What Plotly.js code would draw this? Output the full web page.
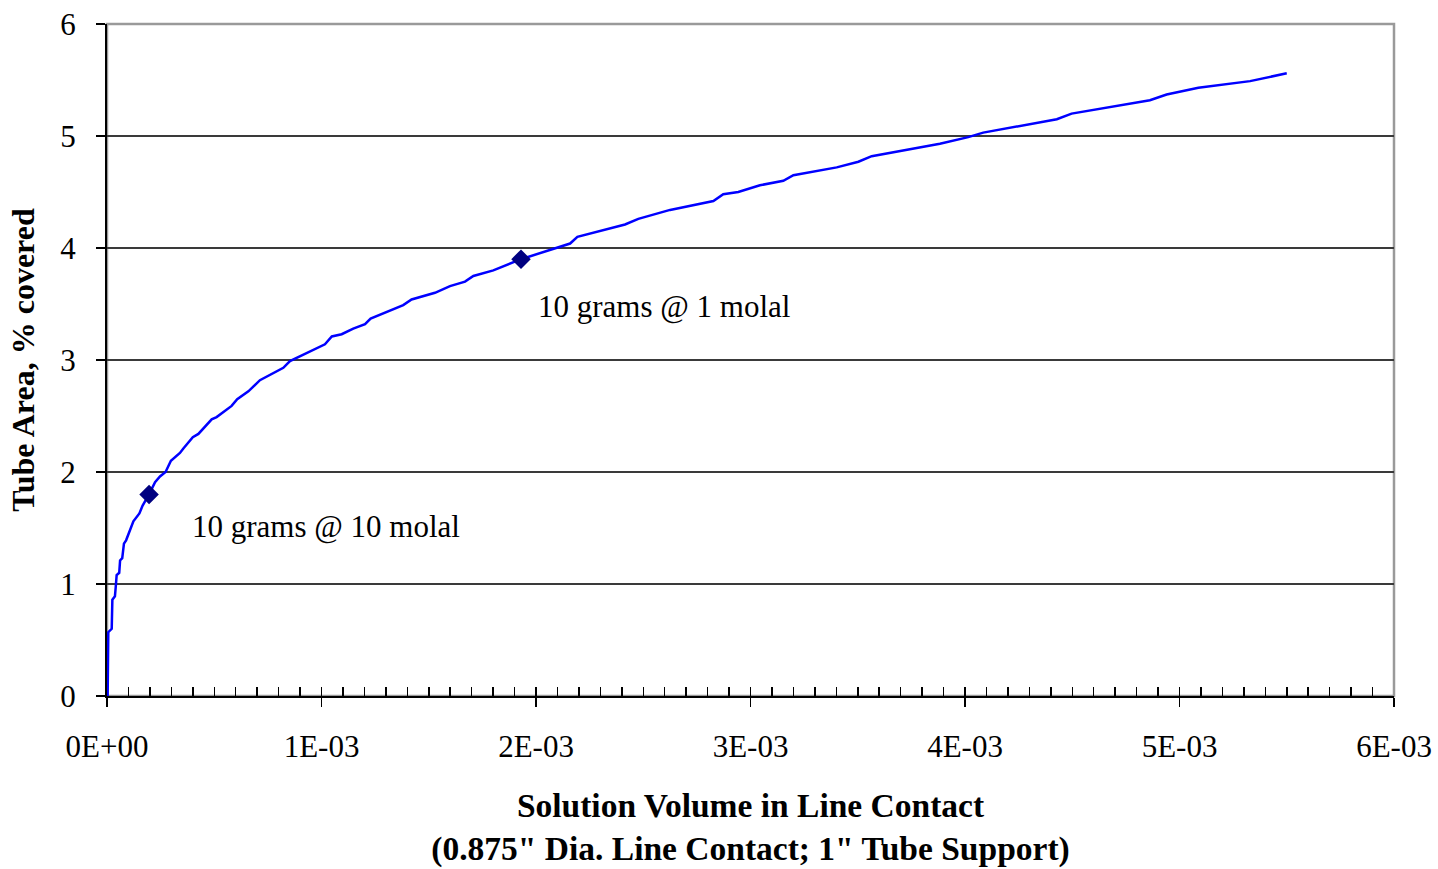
<!DOCTYPE html>
<html>
<head>
<meta charset="utf-8">
<script src="https://cdn.plot.ly/plotly-3.0.1.min.js"></script>
<style>html,body{margin:0;padding:0;background:#fff;}#chart{width:1438px;height:869px;}</style>
</head>
<body>
<div id="chart"></div>
<script>
// Solution volume in line contact (x) vs tube area % covered (y)
const volume = [0, 0.000003, 0.000006, 0.000022, 0.000025, 0.000037, 0.000041, 0.000045, 0.000057, 0.000061,
  0.000071, 0.000079, 0.000089, 0.000115, 0.000123, 0.000151, 0.000166, 0.000196, 0.000224, 0.000247,
  0.000273, 0.000298, 0.000340, 0.000356, 0.000400, 0.000426, 0.000488, 0.000511, 0.000581, 0.000607,
  0.000659, 0.000713, 0.000822, 0.000853, 0.000918, 0.001016, 0.001048, 0.001094, 0.001148, 0.001203,
  0.001229, 0.001381, 0.001420, 0.001529, 0.001599, 0.001669, 0.001708, 0.001801, 0.001930, 0.002159,
  0.002193, 0.002415, 0.002477, 0.002625, 0.002827, 0.002873, 0.002943, 0.003044, 0.003153, 0.003200,
  0.003402, 0.003503, 0.003565, 0.003883, 0.004015, 0.004085, 0.004428, 0.004497, 0.004862, 0.004940,
  0.005088, 0.005329, 0.005500];
const areaCovered = [0, 0, 0.57, 0.60, 0.86, 0.89, 0.98, 1.08, 1.10, 1.21,
  1.23, 1.36, 1.39, 1.53, 1.56, 1.63, 1.70, 1.80, 1.91, 1.96,
  2.00, 2.10, 2.17, 2.21, 2.31, 2.34, 2.47, 2.49, 2.59, 2.65,
  2.72, 2.82, 2.93, 2.99, 3.05, 3.14, 3.21, 3.23, 3.28, 3.32,
  3.37, 3.49, 3.54, 3.60, 3.66, 3.70, 3.75, 3.80, 3.90, 4.04,
  4.10, 4.21, 4.26, 4.34, 4.42, 4.48, 4.50, 4.56, 4.60, 4.65,
  4.72, 4.77, 4.82, 4.93, 4.99, 5.03, 5.15, 5.20, 5.32, 5.37,
  5.43, 5.49, 5.56];

const markerLabels = ["10 grams @ 10 molal", "10 grams @ 1 molal"];
const markerVolume = [0.000196, 0.001930];
const markerArea = [1.80, 3.90];
// label anchor points (left edge of text)
const labelVolume = [0.000388, 0.002001];
const labelArea = [1.51, 3.48];

const xTickVals = [0, 0.001, 0.002, 0.003, 0.004, 0.005, 0.006];
const xTickText = ["0E+00", "1E-03", "2E-03", "3E-03", "4E-03", "5E-03", "6E-03"];
const yTickVals = [0, 1, 2, 3, 4, 5, 6];

const FONT = "'Liberation Serif', 'Times New Roman', serif";

const traces = [
  {x: volume, y: areaCovered, type: 'scatter', mode: 'lines',
   line: {color: '#0000FF', width: 2.5}, hoverinfo: 'x+y', showlegend: false},
  {x: markerVolume, y: markerArea, type: 'scatter', mode: 'markers',
   marker: {symbol: 'diamond', size: 15, color: '#000080'}, text: markerLabels, showlegend: false},
  {x: [0, 0.006], y: [0, 0], xaxis: 'x2', type: 'scatter', mode: 'lines',
   line: {width: 0}, hoverinfo: 'skip', showlegend: false}
];

const layout = {
  width: 1438, height: 869,
  margin: {l: 107, r: 44, t: 24, b: 173, pad: 0},
  paper_bgcolor: '#fff', plot_bgcolor: '#fff',
  font: {family: FONT, size: 31, color: '#000'},
  showlegend: false,
  xaxis: {
    range: [0, 0.006], tickvals: xTickVals, ticktext: xTickText,
    ticks: 'outside', ticklen: 9, tickwidth: 1.5, tickcolor: '#000',
    showline: true, linecolor: '#000', linewidth: 2,
    showgrid: false, zeroline: false, ticklabelstandoff: 13,
    tickfont: {family: FONT, size: 31, color: '#000'},
    title: {text: '<b>Solution Volume in Line Contact</b><br><b>(0.875" Dia. Line Contact; 1" Tube Support)</b>',
            font: {family: FONT, size: 33.5, color: '#000'}, standoff: 30}
  },
  xaxis2: {
    range: [0, 0.006], overlaying: 'x', anchor: 'y', side: 'bottom',
    dtick: 0.0001, tick0: 0, ticks: 'inside', ticklen: 9, tickwidth: 1.5, tickcolor: '#000',
    showticklabels: false, showgrid: false, zeroline: false, showline: false
  },
  yaxis: {
    range: [0, 6], tickvals: yTickVals,
    ticks: 'outside', ticklen: 9, tickwidth: 1.5, tickcolor: '#000',
    showline: true, linecolor: '#000', linewidth: 2,
    showgrid: true, gridcolor: '#3a3a3a', gridwidth: 1.2, zeroline: false,
    ticklabelstandoff: 14,
    tickfont: {family: FONT, size: 31, color: '#000'},
    title: {text: '<b>Tube Area, % covered</b>', font: {family: FONT, size: 32, color: '#000'}, standoff: 16}
  },
  shapes: [
    {type: 'rect', xref: 'paper', yref: 'paper', x0: 0, x1: 1, y0: 0, y1: 1,
     line: {color: '#9a9a9a', width: 2.5}, fillcolor: 'rgba(0,0,0,0)', layer: 'below'}
  ],
  annotations: markerLabels.map((t, i) => ({
    x: labelVolume[i], y: labelArea[i], xref: 'x', yref: 'y', text: t,
    showarrow: false, xanchor: 'left', yanchor: 'middle',
    font: {family: FONT, size: 31, color: '#000'}
  }))
};

Plotly.newPlot('chart', traces, layout, {displayModeBar: false, staticPlot: true});
</script>
</body>
</html>
